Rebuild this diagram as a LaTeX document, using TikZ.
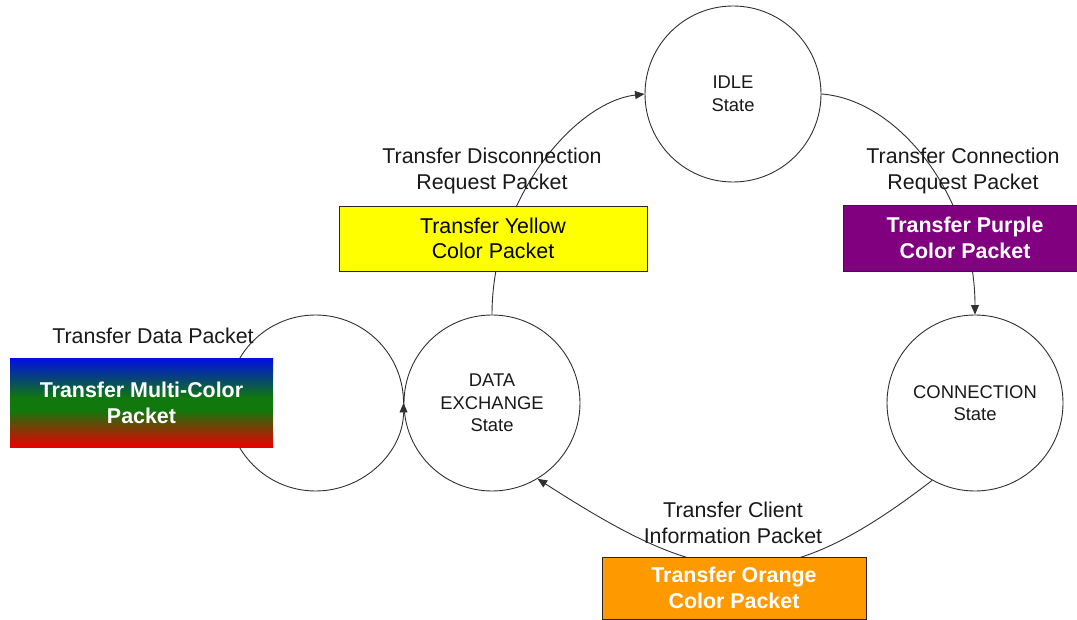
\documentclass[tikz,border=0pt]{standalone}
\usepackage{fontspec}
\setmainfont{Liberation Sans}
\usetikzlibrary{arrows.meta}
\definecolor{pktyellow}{HTML}{FFFF00}
\definecolor{pktpurple}{HTML}{800080}
\definecolor{pktorange}{HTML}{FF9900}
\definecolor{mcblue}{HTML}{0010E0}
\definecolor{mcgreen}{HTML}{10780C}
\definecolor{mcred}{HTML}{EA0000}
\definecolor{linegray}{HTML}{303030}
\pgfdeclareverticalshading{multicolor}{100bp}{color(0bp)=(mcred); color(25bp)=(mcred);
  color(46bp)=(mcgreen); color(53bp)=(mcgreen); color(75bp)=(mcblue); color(100bp)=(mcblue)}
\begin{document}
\begin{tikzpicture}[x=1pt,y=-1pt,
  state/.style={circle,draw=linegray,line width=0.9pt,minimum size=176pt,inner sep=0pt,align=center,
    font=\fontsize{18.4}{22.5}\selectfont,text=black!90},
  lbl/.style={align=center,font=\fontsize{21.4}{25.7}\selectfont,text=black!90,inner sep=0pt},
  pkt/.style={rectangle,draw=black!85,line width=0.8pt,align=center,
    font=\fontsize{21.4}{25.7}\selectfont\bfseries,text=white,inner sep=0pt},
  flow/.style={draw=linegray,line width=0.9pt,-{Triangle[length=9.5pt,width=8pt]}}]
\useasboundingbox (0,0) rectangle (1077,620);
\fill[white] (0,0) rectangle (1077,620);

% states
\node[state] (idle) at (733,94) {IDLE\\State};
\node[state] (conn) at (975,403) {CONNECTION\\State};
\node[state] (data) at (492,403) {DATA\\EXCHANGE\\State};

% connectors
\draw[flow] (data.north) .. controls +(0,-115) and +(-70,8) .. (idle.west);
\draw[flow] (idle.east) .. controls +(79,6) and +(0,-115) .. (conn.north);
\draw[flow] (conn.241) .. controls +(-158,122) and +(168,108) .. (data.301);
\draw[flow] (data.west) arc[start angle=0,end angle=-360,radius=88];

% packets
\node[pkt,fill=pktyellow,text=black,font=\fontsize{21.4}{25.7}\selectfont,
  minimum width=308pt,minimum height=65pt] (yellow) at (493,238.5) {Transfer Yellow\\Color Packet};
\node[pkt,fill=pktpurple,minimum width=244pt,minimum height=66pt] (purple) at (965,238) {Transfer Purple\\Color Packet};
\node[pkt,fill=pktorange,minimum width=264pt,minimum height=62pt] (orange) at (734,588) {Transfer Orange\\Color Packet};
\node[pkt,draw=none,shading=multicolor,
  minimum width=263pt,minimum height=88pt] (multi) at (141.5,403) {Transfer Multi-Color\\Packet};

% labels
\node[lbl] (ldata) at (153,336) {Transfer Data Packet};
\node[lbl] (ldisc) at (492,171) {Transfer Disconnection\\Request Packet};
\node[lbl] (lconn) at (963,171) {Transfer Connection\\Request Packet};
\node[lbl] (lclient) at (733,523) {Transfer Client\\Information Packet};
\end{tikzpicture}
\end{document}
